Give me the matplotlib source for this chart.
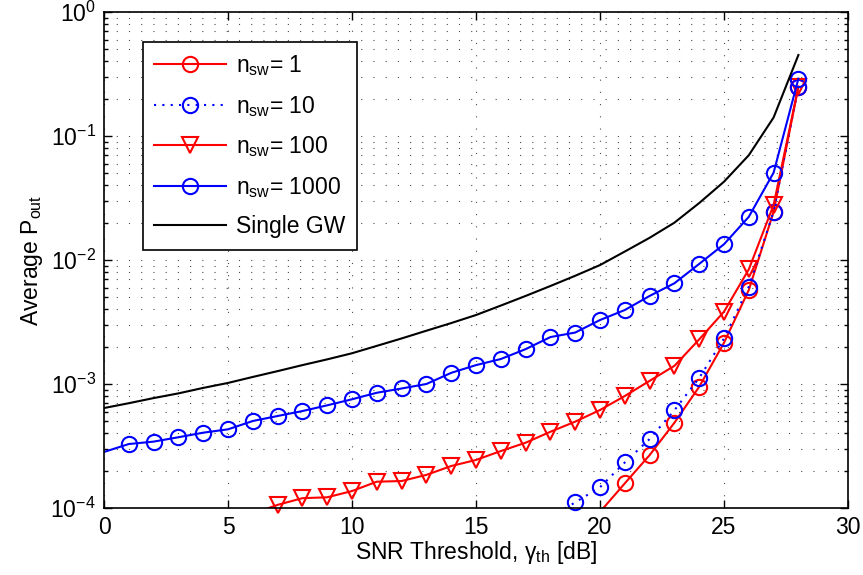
import matplotlib
matplotlib.use("Agg")
import matplotlib.pyplot as plt
import numpy as np

plt.rcParams['font.family'] = ['Liberation Sans', 'DejaVu Sans']
plt.rcParams['mathtext.fontset'] = 'custom'
plt.rcParams['mathtext.rm'] = 'Liberation Sans'
plt.rcParams['mathtext.it'] = 'Liberation Sans:italic'
plt.rcParams['font.size'] = 16.5

# data
snr_1 = np.arange(20, 29)
p_1 = [9.3e-5, 1.58e-4, 2.67e-4, 4.87e-4, 9.5e-4, 2.15e-3, 5.73e-3, 2.45e-2, 0.25]

snr_10 = np.arange(18, 29)
p_10 = [8.4e-5, 1.11e-4, 1.47e-4, 2.33e-4, 3.6e-4, 6.14e-4, 1.12e-3, 2.33e-3,
        6.09e-3, 2.45e-2, 0.25]

snr_100 = np.arange(6, 29)
p_100 = [9.0e-5, 1.06e-4, 1.2e-4, 1.22e-4, 1.37e-4, 1.63e-4, 1.65e-4, 1.85e-4,
         2.18e-4, 2.44e-4, 2.88e-4, 3.36e-4, 4.12e-4, 4.97e-4, 6.17e-4, 8.0e-4,
         1.06e-3, 1.4e-3, 2.29e-3, 3.83e-3, 8.4e-3, 2.78e-2, 0.25]

snr_1000 = np.arange(0, 29)
p_1000 = [2.83e-4, 3.28e-4, 3.43e-4, 3.72e-4, 4.05e-4, 4.31e-4, 5.03e-4, 5.52e-4,
          6.05e-4, 6.73e-4, 7.53e-4, 8.5e-4, 9.2e-4, 1.0e-3, 1.23e-3, 1.42e-3,
          1.59e-3, 1.91e-3, 2.39e-3, 2.6e-3, 3.28e-3, 3.95e-3, 5.13e-3, 6.49e-3,
          9.3e-3, 1.34e-2, 2.23e-2, 5.06e-2, 0.29]

snr_gw = np.arange(0, 29)
p_gw = [6.4e-4, 7.0e-4, 7.7e-4, 8.4e-4, 9.3e-4, 1.02e-3, 1.14e-3, 1.27e-3, 1.42e-3,
        1.58e-3, 1.77e-3, 2.03e-3, 2.33e-3, 2.69e-3, 3.10e-3, 3.60e-3, 4.29e-3,
        5.13e-3, 6.17e-3, 7.46e-3, 9.1e-3, 1.17e-2, 1.51e-2, 2.0e-2, 2.88e-2,
        4.28e-2, 7.0e-2, 0.141, 0.45]

labels = [r'n$_{\rm sw}$= 1', r'n$_{\rm sw}$= 10', r'n$_{\rm sw}$= 100',
          r'n$_{\rm sw}$= 1000', 'Single GW']

fig = plt.figure(figsize=(8.63, 5.75), dpi=100)
ax = fig.add_axes([104/863, 1-508/575, 744/863, 496/575])
ax.set_yscale('log')

def series(x, y, color, ls, marker, first=None):
    x = np.asarray(x)
    y = np.asarray(y)
    line, = ax.plot(x, y, color=color, linestyle=ls, lw=1.5)
    keep = y >= 1e-4
    if first is not None:
        keep &= x >= first
    mk, = ax.plot(x[keep], y[keep], linestyle='none', marker=marker, ms=11,
                  mfc='none', mec=color, mew=1.5, clip_on=False)
    return (line, mk)

dot = (0, (1, 3))
h1 = series(snr_1, p_1, 'red', '-', 'o')
h2 = series(snr_10, p_10, 'blue', dot, 'o')
h3 = series(snr_100, p_100, 'red', '-', 'v')
h4 = series(snr_1000, p_1000, 'blue', '-', 'o', first=1)
h5, = ax.plot(snr_gw, p_gw, color='black', lw=1.5)

ax.set_xlim(0, 30)
ax.set_ylim(1e-4, 1)
ax.set_xticks(np.arange(0, 31, 5))

ax.grid(True, which='major', axis='both', color='0.3', linestyle=(0, (1, 10)), lw=0.8)
ax.grid(True, which='minor', axis='y', color='0.3', linestyle=(0, (1, 10)), lw=0.8)
ax.tick_params(which='both', direction='in', top=True, right=True, width=1)
ax.tick_params(which='major', length=6, pad=6)
ax.tick_params(which='minor', length=3)
ax.tick_params(axis='x', which='minor', bottom=False, top=False)
for s in ax.spines.values():
    s.set_linewidth(1.2)

ax.set_xlabel(r'SNR Threshold, γ$_{\rm th}$ [dB]', labelpad=0)
ax.set_ylabel(r'Average P$_{\rm out}$', labelpad=4)

leg = ax.legend([h1, h2, h3, h4, h5], labels, loc='upper left',
                bbox_to_anchor=(39/744, 1-30/496), borderaxespad=0,
                fancybox=False, edgecolor='black', framealpha=1,
                handlelength=3.1, labelspacing=0.68, handletextpad=0.45,
                borderpad=0.5)
leg.get_frame().set_linewidth(1.2)

fig.savefig('out.png', dpi=100)
